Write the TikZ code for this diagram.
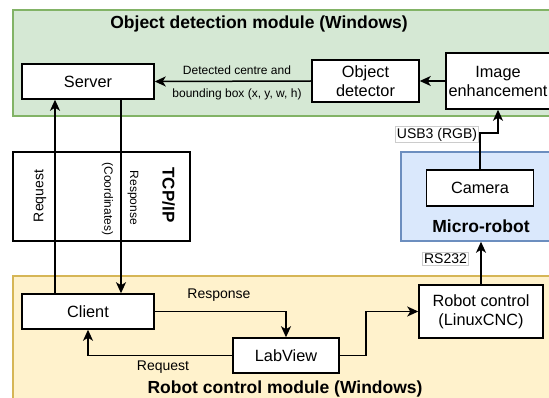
\documentclass[tikz,border=0pt]{standalone}
\usepackage{fontspec}
\setmainfont{Liberation Sans}
\usetikzlibrary{arrows.meta}
\definecolor{grfill}{HTML}{D5E8D4}
\definecolor{grdraw}{HTML}{82B366}
\definecolor{blfill}{HTML}{DAE8FC}
\definecolor{bldraw}{HTML}{6C8EBF}
\definecolor{orfill}{HTML}{FFF2CC}
\definecolor{ordraw}{HTML}{D6B656}
\tikzset{
  region/.style={draw, line width=1.5pt, inner sep=0pt},
  box/.style={draw, line width=1.5pt, fill=white, align=center, inner sep=0pt, font=\fontsize{16.3}{19}\selectfont},
  title/.style={font=\fontsize{17.5}{20}\selectfont\bfseries},
  lbl/.style={font=\fontsize{14}{16}\selectfont, inner sep=1pt},
  lblbox/.style={lbl, fill=white, draw=black!20, line width=0.6pt, inner sep=1.5pt},
  small/.style={font=\fontsize{12}{14}\selectfont, inner sep=1pt},
  conn/.style={line width=1.5pt},
  arr/.style={conn, -{Stealth[length=11pt,width=10pt,inset=3pt]}},
}
\begin{document}
\begin{tikzpicture}[x=1pt,y=-1pt]
\useasboundingbox (0,0) rectangle (549,398);
\fill[white] (0,0) rectangle (549,398);
% regions
\node[region, fill=grfill, draw=grdraw, minimum width=538pt, minimum height=106pt] (od) at (282,63) {};
\node[region, fill=blfill, draw=bldraw, minimum width=150pt, minimum height=89pt] (mr) at (476,196.5) {};
\node[region, fill=orfill, draw=ordraw, minimum width=538pt, minimum height=124pt] (rcm) at (282,338) {};
\node[region, draw=black, minimum width=177pt, minimum height=89pt] (tcp) at (101.5,196.5) {};
% titles
\node[title] (odt) at (259,24) {Object detection module (Windows)};
\node[title] (mrt) at (481,226) {Micro-robot};
\node[title] (rcmt) at (285,389) {Robot control module (Windows)};
% boxes
\node[box, minimum width=132pt, minimum height=35pt] (server) at (88,81.5) {Server};
\node[box, minimum width=107pt, minimum height=42pt] (obj) at (365.5,81) {Object\\detector};
\node[box, minimum width=104pt, minimum height=56pt] (img) at (498,81) {Image\\enhancement};
\node[box, minimum width=107pt, minimum height=36pt] (cam) at (480,188) {Camera};
\node[box, minimum width=132pt, minimum height=35pt] (client) at (88,311.5) {Client};
\node[box, minimum width=106pt, minimum height=35pt] (lv) at (286,355.5) {LabView};
\node[box, minimum width=124pt, minimum height=53pt] (rc) at (481,311.5) {Robot control\\(LinuxCNC)};
% TCP/IP connectors
\draw[arr] ([xshift=-33pt]client.north) -- ([xshift=-33pt]server.south);
\draw[arr] ([xshift=33pt]server.south) -- ([xshift=33pt]client.north);
\node[lbl, rotate=90] (treq) at (40,196) {Request};
\node[small, rotate=-90] (tcoord) at (107.5,199) {(Coordinates)};
\node[small, rotate=-90] (tresp) at (133,198) {Response};
\node[font=\fontsize{17}{19}\selectfont\bfseries, rotate=-90, inner sep=1pt] (tcpt) at (168.5,195) {TCP/IP};
% detection connectors
\draw[arr] (img.west) -- (obj.east);
\draw[arr] (obj.west) -- (server.east);
\node[small] (dc1) at (237,70) {Detected centre and};
\node[small] (dc2) at (237,94) {bounding box (x, y, w, h)};
\coordinate (usbbend) at (480,133);
\draw[arr] (cam.north) -- (usbbend) -| (img.south);
\node[lblbox] (usb) at (437,134.5) {USB3 (RGB)};
% robot control connectors
\draw[arr] (rc.north) -- (rc.north |- mr.south);
\node[lblbox] (rs) at (445.5,258.5) {RS232};
\draw[arr] (client.east) -| (lv.north);
\node[lbl] (resp) at (219,295) {Response};
\draw[arr] (lv.west) -| (client.south);
\node[lbl] (req) at (163,367) {Request};
\coordinate (lvbend) at (366,355.5);
\draw[arr] (lv.east) -- (lvbend) |- (rc.west);
\end{tikzpicture}
\end{document}
